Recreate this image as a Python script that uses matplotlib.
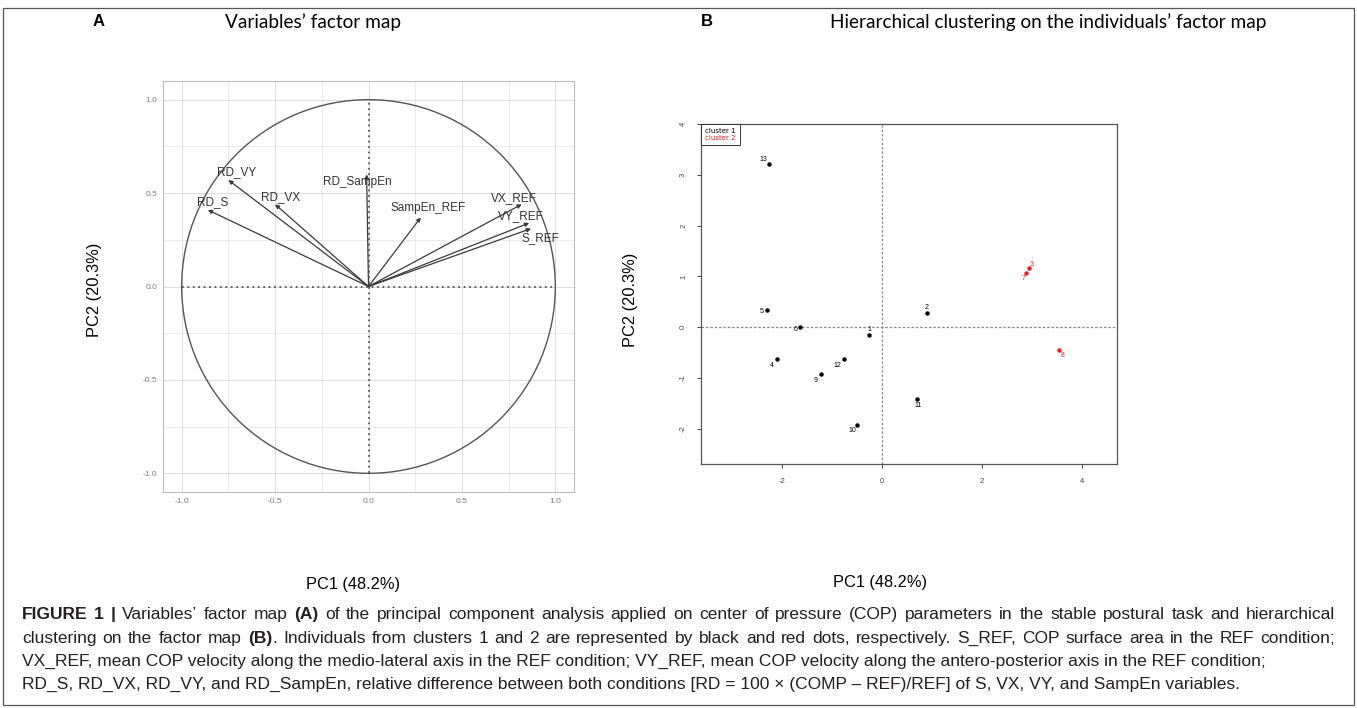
import numpy as np
import matplotlib
matplotlib.use('Agg')
import matplotlib.pyplot as plt
from matplotlib.patches import Circle, FancyArrowPatch, Rectangle
from matplotlib.lines import Line2D
from matplotlib import font_manager

plt.rcParams['axes.unicode_minus'] = False

# panel A: variables on PC1 / PC2
var_names = ['RD_S', 'RD_VY', 'RD_VX', 'RD_SampEn', 'SampEn_REF', 'VX_REF', 'VY_REF', 'S_REF']
var_pc1 = [-0.86, -0.75, -0.50, -0.01, 0.28, 0.82, 0.86, 0.87]
var_pc2 = [0.41, 0.57, 0.44, 0.60, 0.37, 0.44, 0.34, 0.31]

# panel B: individuals
ind_ids = ['1', '2', '3', '4', '5', '6', '7', '8', '9', '10', '11', '12', '13']
ind_pc1 = [-0.26, 0.90, 2.94, -2.10, -2.30, -1.64, 2.88, 3.54, -1.22, -0.50, 0.70, -0.76, -2.26]
ind_pc2 = [-0.16, 0.29, 1.16, -0.63, 0.35, 0.00, 1.06, -0.45, -0.92, -1.92, -1.41, -0.63, 3.22]
ind_cluster = [1, 1, 2, 1, 1, 1, 2, 2, 1, 1, 1, 1, 1]

axis1_label = 'PC1 (48.2%)'
axis2_label = 'PC2 (20.3%)'

W, H = 1357, 708
fig = plt.figure(figsize=(W / 100, H / 100), dpi=100)
renderer = fig.canvas.get_renderer()


def box(x0, y0, x1, y1):
    return [x0 / W, 1 - y1 / H, (x1 - x0) / W, (y1 - y0) / H]


def fx(x):
    return x / W


def fy(y):
    return 1 - y / H


def has_font(name):
    try:
        font_manager.findfont(font_manager.FontProperties(family=name), fallback_to_default=False)
        return True
    except Exception:
        return False


sans = 'Liberation Sans'
cap_font = 'Liberation Sans Narrow' if has_font('Liberation Sans Narrow') else 'Liberation Sans'
title_font = 'Lato' if has_font('Lato') else 'DejaVu Sans'

# ---------------- panel A ----------------
axA = fig.add_axes(box(163, 81, 574, 492))
axA.set_xlim(-1.1, 1.1)
axA.set_ylim(-1.1, 1.1)
ticks = [-1.0, -0.5, 0.0, 0.5, 1.0]
axA.set_xticks(ticks)
axA.set_yticks(ticks)
axA.set_xticklabels(['%.1f' % t for t in ticks])
axA.set_yticklabels(['%.1f' % t for t in ticks])
axA.set_xticks([-0.75, -0.25, 0.25, 0.75], minor=True)
axA.set_yticks([-0.75, -0.25, 0.25, 0.75], minor=True)
axA.grid(True, which='major', color='#dcdcdc', lw=0.7)
axA.grid(True, which='minor', color='#e8e8e8', lw=0.6)
axA.set_axisbelow(True)
axA.tick_params(which='both', length=0, labelsize=6, labelcolor='#7a7a7a', pad=4)
for lab in axA.get_xticklabels() + axA.get_yticklabels():
    lab.set_family(sans)
for s in axA.spines.values():
    s.set_color('#bdbdbd')
    s.set_linewidth(0.8)

axA.add_patch(Circle((0, 0), 1.0, fill=False, ec='#555555', lw=1.0))
axA.plot([-1, 1], [0, 0], color='#555555', lw=1.3, ls=(0, (1, 2)))
axA.plot([0, 0], [-1, 1], color='#555555', lw=1.3, ls=(0, (1, 2)))

# label offsets in pixels from arrow tip (dx, dy up)
var_offsets = {'RD_S': (5, 8), 'RD_VY': (8, 8), 'RD_VX': (6, 7), 'RD_SampEn': (-9, -8),
               'SampEn_REF': (7, 9), 'VX_REF': (-8, 6), 'VY_REF': (-8, 7), 'S_REF': (9, -9)}
for name, x, y in zip(var_names, var_pc1, var_pc2):
    axA.add_patch(FancyArrowPatch((0, 0), (x, y), arrowstyle='-|>', mutation_scale=6,
                                  color='#3a3a3a', lw=0.9, shrinkA=0, shrinkB=0))
    dx, dy = var_offsets[name]
    axA.annotate(name, (x, y), xytext=(dx * 0.72, dy * 0.72), textcoords='offset points',
                 ha='center', va='center', fontsize=8.5, color='#333333', family=sans)

# ---------------- panel B ----------------
axB = fig.add_axes(box(701, 124, 1117, 464))
axB.set_xlim(-3.62, 4.70)
axB.set_ylim(-2.69, 4.0)
axB.set_xticks([-2, 0, 2, 4])
axB.set_yticks([-2, -1, 0, 1, 2, 3, 4])
axB.tick_params(direction='out', length=3, width=0.7, color='#444444',
                labelsize=5.5, labelcolor='#444444')
axB.tick_params(axis='x', pad=7)
axB.tick_params(axis='y', pad=7)
for lab in axB.get_yticklabels():
    lab.set_rotation(90)
    lab.set_va('center')
for lab in axB.get_xticklabels() + axB.get_yticklabels():
    lab.set_family(sans)
for s in axB.spines.values():
    s.set_color('#555555')
    s.set_linewidth(0.9)

axB.axhline(0, color='#8a8a8a', lw=0.9, ls=(0, (2, 1.5)))
axB.axvline(0, color='#8a8a8a', lw=0.9, ls=(0, (2, 1.5)))

cluster_colors = {1: 'black', 2: '#e0202a'}
ind_offsets = {'1': (0, 6), '2': (0, 5), '3': (3, 4), '4': (-5, -6), '5': (-5, -2),
               '6': (-4, -2), '7': (-2, -5), '8': (4, -5), '9': (-5, -6), '10': (-5, -6),
               '11': (1, -7), '12': (-7, -6), '13': (-6, 4)}
for i, x, y, c in zip(ind_ids, ind_pc1, ind_pc2, ind_cluster):
    col = cluster_colors[c]
    axB.plot(x, y, 'o', ms=2.2, color=col, mec=col)
    dx, dy = ind_offsets[i]
    axB.annotate(i, (x, y), xytext=(dx * 0.72, dy * 0.72), textcoords='offset points',
                 ha='center', va='center', fontsize=5, color=col, family=sans)

handles = [Line2D([], [], ls='none') for _ in range(2)]
leg = axB.legend(handles, ['cluster 1', 'cluster 2'], loc='upper left', borderaxespad=0,
                 fancybox=False, edgecolor='#333333', framealpha=1, handlelength=0,
                 handletextpad=0, fontsize=5, borderpad=0.6, labelspacing=0.1,
                 labelcolor=['black', '#e0202a'])
leg.get_frame().set_linewidth(0.7)

# ---------------- figure texts ----------------
fig.text(fx(95), fy(290), axis2_label, rotation=90, ha='center', va='center', fontsize=11.8, family=sans)
fig.text(fx(353), fy(584), axis1_label, ha='center', va='center', fontsize=11.8, family=sans)
fig.text(fx(630), fy(300), axis2_label, rotation=90, ha='center', va='center', fontsize=11.8, family=sans)
fig.text(fx(880), fy(583), axis1_label, ha='center', va='center', fontsize=11.8, family=sans)

fig.text(fx(93), fy(22), 'A', ha='left', va='center', fontsize=12, fontweight='bold', family=sans)
fig.text(fx(701), fy(22), 'B', ha='left', va='center', fontsize=12, fontweight='bold', family=sans)

# titles: fit the long one to its width in the reference
titleB = 'Hierarchical clustering on the individuals\u2019 factor map'
t = fig.text(0, 0, titleB, fontsize=10, family=title_font)
tw = t.get_window_extent(renderer).width
t.remove()
tsize = 10 * 438 / tw
fig.text(fx(225), fy(22), 'Variables\u2019 factor map', ha='left', va='center', fontsize=tsize, family=title_font)
fig.text(fx(830), fy(22), titleB, ha='left', va='center', fontsize=tsize, family=title_font)

# ---------------- caption ----------------
caption = [
    ("**FIGURE 1 |** Variables\u2019 factor map **(A)** of the principal component analysis applied on center of pressure (COP) parameters in the stable postural task and hierarchical", True),
    ("clustering on the factor map **(B)**. Individuals from clusters 1 and 2 are represented by black and red dots, respectively. S_REF, COP surface area in the REF condition;", True),
    ("VX_REF, mean COP velocity along the medio-lateral axis in the REF condition; VY_REF, mean COP velocity along the antero-posterior axis in the REF condition;", False),
    ("RD_S, RD_VX, RD_VY, and RD_SampEn, relative difference between both conditions [RD = 100 \u00d7 (COMP \u2013 REF)/REF] of S, VX, VY, and SampEn variables.", False),
]


def parse(line):
    # returns list of words, each a list of (text, bold)
    segs = line.split('**')
    chars = []
    for k, s in enumerate(segs):
        for ch in s:
            chars.append((ch, k % 2 == 1))
    words, cur = [], []
    for ch, b in chars:
        if ch == ' ':
            if cur:
                words.append(cur)
            cur = []
        else:
            if cur and cur[-1][1] == b:
                cur[-1] = (cur[-1][0] + ch, b)
            else:
                cur.append((ch, b))
    if cur:
        words.append(cur)
    return words


def raw_width(text, bold, size):
    tt = fig.text(0, 0, text, fontsize=size, family=cap_font, fontweight='bold' if bold else 'normal')
    w = tt.get_window_extent(renderer).width
    tt.remove()
    return w


def seg_width(text, bold, size):
    # advance width: pad with 'H' on both sides so side bearings are counted
    return raw_width('H' + text + 'H', bold, size) - raw_width('HH', bold, size)


def line_width(words, size):
    return [sum(seg_width(s, b, size) for s, b in w) for w in words]


# choose size from the last (unjustified) line
csize = 10 * (1240 - 22) / raw_width(caption[3][0], False, 10)

x0, x1 = 22, 1335
baselines = [619, 643, 666, 689]
for (line, justify), y in zip(caption, baselines):
    if not justify:
        fig.text(fx(x0), fy(y), line, ha='left', va='baseline', fontsize=csize,
                 family=cap_font, color='#231f20')
        continue
    words = parse(line)
    ws = line_width(words, csize)
    gap = (x1 - x0 - sum(ws)) / (len(ws) - 1)
    x = x0
    for word, wwidth in zip(words, ws):
        xx = x
        for s, b in word:
            fig.text(fx(xx), fy(y), s, ha='left', va='baseline', fontsize=csize, family=cap_font,
                     fontweight='bold' if b else 'normal', color='#231f20')
            xx += seg_width(s, b, csize)
        x += wwidth + gap

# outer frame
fig.add_artist(Rectangle((fx(3), fy(705)), fx(1354) - fx(3), fy(8) - fy(705),
                         transform=fig.transFigure, fill=False, ec='#555555', lw=0.9))

fig.savefig('out.png', dpi=100)
